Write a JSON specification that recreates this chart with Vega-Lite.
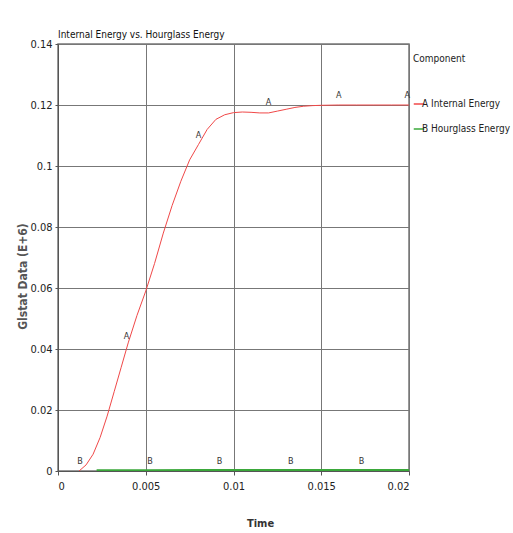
{
  "$schema": "https://vega.github.io/schema/vega-lite/v6.json",
  "width": 351,
  "height": 427,
  "autosize": {"type": "none"},
  "padding": {"left": 58, "top": 44, "right": 104, "bottom": 62},
  "background": "white",
  "title": {"text": "Internal Energy vs. Hourglass Energy", "anchor": "start", "frame": "group", "font": "DejaVu Sans Condensed, sans-serif", "fontSize": 10, "fontWeight": "normal", "color": "#111", "offset": -2},
  "config": {
    "view": {"stroke": "#777", "strokeWidth": 1.5},
    "font": "DejaVu Sans Condensed, sans-serif",
    "axis": {"labelFont": "DejaVu Sans Condensed, sans-serif", "labelFontSize": 11, "labelColor": "#222", "titleFont": "DejaVu Sans Condensed, sans-serif", "gridColor": "#777", "gridOpacity": 1, "domainColor": "#555", "tickColor": "#555"}
  },
  "datasets": {
    "curves": [
      {"t": 0.0012, "v": 0.0, "comp": "A Internal Energy"},
      {"t": 0.0016, "v": 0.002, "comp": "A Internal Energy"},
      {"t": 0.002, "v": 0.0055, "comp": "A Internal Energy"},
      {"t": 0.0024, "v": 0.011, "comp": "A Internal Energy"},
      {"t": 0.0028, "v": 0.018, "comp": "A Internal Energy"},
      {"t": 0.0032, "v": 0.026, "comp": "A Internal Energy"},
      {"t": 0.0036, "v": 0.034, "comp": "A Internal Energy"},
      {"t": 0.004, "v": 0.042, "comp": "A Internal Energy"},
      {"t": 0.0045, "v": 0.051, "comp": "A Internal Energy"},
      {"t": 0.005, "v": 0.059, "comp": "A Internal Energy"},
      {"t": 0.0055, "v": 0.068, "comp": "A Internal Energy"},
      {"t": 0.006, "v": 0.078, "comp": "A Internal Energy"},
      {"t": 0.0065, "v": 0.087, "comp": "A Internal Energy"},
      {"t": 0.007, "v": 0.095, "comp": "A Internal Energy"},
      {"t": 0.0075, "v": 0.102, "comp": "A Internal Energy"},
      {"t": 0.008, "v": 0.107, "comp": "A Internal Energy"},
      {"t": 0.0085, "v": 0.112, "comp": "A Internal Energy"},
      {"t": 0.009, "v": 0.1153, "comp": "A Internal Energy"},
      {"t": 0.0095, "v": 0.1168, "comp": "A Internal Energy"},
      {"t": 0.01, "v": 0.1175, "comp": "A Internal Energy"},
      {"t": 0.0105, "v": 0.1177, "comp": "A Internal Energy"},
      {"t": 0.011, "v": 0.1176, "comp": "A Internal Energy"},
      {"t": 0.0115, "v": 0.1174, "comp": "A Internal Energy"},
      {"t": 0.012, "v": 0.1174, "comp": "A Internal Energy"},
      {"t": 0.0125, "v": 0.118, "comp": "A Internal Energy"},
      {"t": 0.013, "v": 0.1186, "comp": "A Internal Energy"},
      {"t": 0.0135, "v": 0.1192, "comp": "A Internal Energy"},
      {"t": 0.014, "v": 0.1196, "comp": "A Internal Energy"},
      {"t": 0.0145, "v": 0.1198, "comp": "A Internal Energy"},
      {"t": 0.015, "v": 0.1199, "comp": "A Internal Energy"},
      {"t": 0.016, "v": 0.12, "comp": "A Internal Energy"},
      {"t": 0.017, "v": 0.12, "comp": "A Internal Energy"},
      {"t": 0.018, "v": 0.12, "comp": "A Internal Energy"},
      {"t": 0.019, "v": 0.12, "comp": "A Internal Energy"},
      {"t": 0.02, "v": 0.12, "comp": "A Internal Energy"},
      {"t": 0.0022, "v": 0.0002, "comp": "B Hourglass Energy"},
      {"t": 0.005, "v": 0.0002, "comp": "B Hourglass Energy"},
      {"t": 0.008, "v": 0.0003, "comp": "B Hourglass Energy"},
      {"t": 0.011, "v": 0.0003, "comp": "B Hourglass Energy"},
      {"t": 0.014, "v": 0.0003, "comp": "B Hourglass Energy"},
      {"t": 0.017, "v": 0.0003, "comp": "B Hourglass Energy"},
      {"t": 0.02, "v": 0.0003, "comp": "B Hourglass Energy"}
    ],
    "marks": [
      {"t": 0.0039, "v": 0.0425, "lab": "A"},
      {"t": 0.008, "v": 0.1085, "lab": "A"},
      {"t": 0.012, "v": 0.1195, "lab": "A"},
      {"t": 0.016, "v": 0.1215, "lab": "A"},
      {"t": 0.0199, "v": 0.1215, "lab": "A"},
      {"t": 0.00125, "v": 0.0015, "lab": "B"},
      {"t": 0.00524, "v": 0.0015, "lab": "B"},
      {"t": 0.0092, "v": 0.0015, "lab": "B"},
      {"t": 0.01326, "v": 0.0015, "lab": "B"},
      {"t": 0.0173, "v": 0.0015, "lab": "B"}
    ]
  },
  "layer": [
    {
      "data": {"name": "curves"},
      "transform": [{"filter": "datum.comp === 'A Internal Energy'"}],
      "mark": {"type": "line", "strokeWidth": 1, "clip": true},
      "encoding": {
        "x": {"field": "t", "type": "quantitative", "scale": {"domain": [0, 0.02], "nice": false},
          "axis": {"title": "Time", "values": [0, 0.005, 0.01, 0.015, 0.02], "format": "~g", "grid": true, "tickSize": 4, "labelPadding": 5, "titleFontSize": 11, "titleFontWeight": "bold", "titleColor": "#333", "titleX": 202, "titleY": 52, "titleBaseline": "middle"}},
        "y": {"field": "v", "type": "quantitative", "scale": {"domain": [0, 0.14], "nice": false},
          "axis": {"title": "Glstat Data (E+6)", "values": [0, 0.02, 0.04, 0.06, 0.08, 0.1, 0.12, 0.14], "format": "~g", "grid": true, "tickSize": 3, "labelPadding": 3, "titleFontSize": 12, "titleFontWeight": "bold", "titleColor": "#555", "titleX": -36, "titleY": 232, "titleAngle": -90, "titleBaseline": "middle"}},
        "color": {"field": "comp", "type": "nominal", "scale": {"domain": ["A Internal Energy", "B Hourglass Energy"], "range": ["#f04848", "#3aa83a"]},
          "legend": {"title": "Component", "orient": "none", "legendX": 355, "legendY": 10, "symbolType": "stroke", "symbolSize": 110, "symbolStrokeWidth": 1.5, "titleFont": "DejaVu Sans Condensed, sans-serif", "titleFontSize": 10, "titleFontWeight": "normal", "titleColor": "#222", "titlePadding": 34, "labelFont": "DejaVu Sans Condensed, sans-serif", "labelFontSize": 10, "labelColor": "#222", "labelOffset": -3, "rowPadding": 14}}
      }
    },
    {
      "data": {"name": "curves"},
      "transform": [{"filter": "datum.comp === 'B Hourglass Energy'"}],
      "mark": {"type": "line", "strokeWidth": 2.2, "clip": true},
      "encoding": {
        "x": {"field": "t", "type": "quantitative"},
        "y": {"field": "v", "type": "quantitative"},
        "color": {"field": "comp", "type": "nominal"}
      }
    },
    {
      "data": {"name": "marks"},
      "mark": {"type": "text", "font": "DejaVu Sans Condensed, sans-serif", "fontSize": 9, "color": "#333", "baseline": "bottom", "align": "center"},
      "encoding": {
        "x": {"field": "t", "type": "quantitative"},
        "y": {"field": "v", "type": "quantitative"},
        "text": {"field": "lab"}
      }
    }
  ]
}
